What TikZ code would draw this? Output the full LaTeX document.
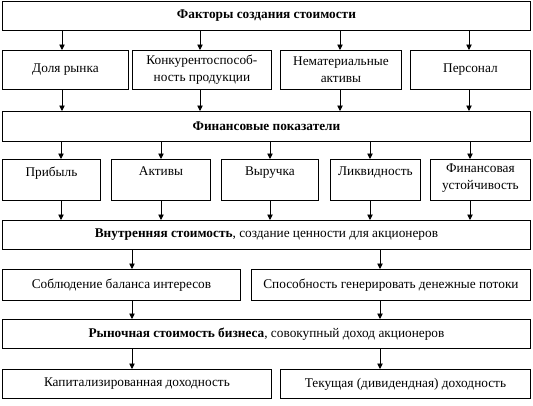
\documentclass[tikz,border=0pt]{standalone}
\usepackage{fontspec}
\setmainfont{Liberation Serif}
\usetikzlibrary{arrows.meta}
\tikzset{
  x=1pt,y=-1pt,
  box/.style={draw=black,line width=0.9pt,anchor=north west,inner sep=1pt,align=center,
    font=\fontsize{13.3}{17}\selectfont},
  arr/.style={line width=0.9pt,-{Triangle[length=5.5pt,width=5.5pt]}},
  toplbl/.style={anchor=north,align=center,inner sep=0pt,font=\fontsize{13.3}{17}\selectfont}
}
\begin{document}
\begin{tikzpicture}
\useasboundingbox[fill=white] (0,0) rectangle (533,405);
% row 1
\node[box,minimum width=528,minimum height=29] (r1) at (2,1) {\textbf{Факторы создания стоимости}};
% row 2
\node[box,minimum width=126,minimum height=39] (b21) at (2,50) {Доля рынка};
\node[box,minimum width=139,minimum height=39] (b22) at (132,50) {Конкурентоспособ-\\ность продукции};
\node[box,minimum width=121,minimum height=39] (b23) at (280,50) {Нематериальные\\активы};
\node[box,minimum width=120,minimum height=39] (b24) at (410,50) {Персонал};
% row 3
\node[box,minimum width=528,minimum height=30] (r3) at (2,111) {\textbf{Финансовые показатели}};
% row 4
\node[box,minimum width=98,minimum height=41,label={[toplbl,yshift=-8pt]north:Прибыль}] (b41) at (2,159) {};
\node[box,minimum width=99,minimum height=41,label={[toplbl,yshift=-8pt]north:Активы}] (b42) at (111,159) {};
\node[box,minimum width=97,minimum height=41,label={[toplbl,yshift=-8pt]north:Выручка}] (b43) at (221,159) {};
\node[box,minimum width=90,minimum height=41,label={[toplbl,yshift=-8pt]north:Ликвидность}] (b44) at (330,159) {};
\node[box,minimum width=100,minimum height=41,label={[toplbl,yshift=-4.5pt]north:Финансовая\\устойчивость}] (b45) at (430,159) {};
% row 5
\node[box,minimum width=528,minimum height=29] (r5) at (2,220) {\textbf{Внутренняя стоимость}, создание ценности для акционеров};
% row 6
\node[box,minimum width=238,minimum height=31] (b61) at (2,269) {Соблюдение баланса интересов};
\node[box,minimum width=279,minimum height=31] (b62) at (251,269) {Способность генерировать денежные потоки};
% row 7
\node[box,minimum width=528,minimum height=29] (r7) at (2,319) {\textbf{Рыночная стоимость бизнеса}, совокупный доход акционеров};
% row 8
\node[box,minimum width=269,minimum height=29] (b81) at (2,369) {Капитализированная доходность};
\node[box,minimum width=250,minimum height=29] (b82) at (280,369) {Текущая (дивидендная) доходность};
% arrow columns
\coordinate (c1) at (62,0);
\coordinate (c2) at (200,0);
\coordinate (c3) at (340,0);
\coordinate (c4) at (469,0);
\coordinate (d1) at (61,0);
\coordinate (d2) at (161,0);
\coordinate (d3) at (270,0);
\coordinate (d4) at (370,0);
\coordinate (d5) at (470,0);
\coordinate (e1) at (132,0);
\coordinate (e2) at (380,0);
% arrows row1 -> row2 -> row3
\draw[arr] (r1.south -| c1) -- (b21.north -| c1);
\draw[arr] (r1.south -| c2) -- (b22.north -| c2);
\draw[arr] (r1.south -| c3) -- (b23.north -| c3);
\draw[arr] (r1.south -| c4) -- (b24.north -| c4);
\draw[arr] (b21.south -| c1) -- (r3.north -| c1);
\draw[arr] (b22.south -| c2) -- (r3.north -| c2);
\draw[arr] (b23.south -| c3) -- (r3.north -| c3);
\draw[arr] (b24.south -| c4) -- (r3.north -| c4);
% row3 -> row4 -> row5
\draw[arr] (r3.south -| d1) -- (b41.north -| d1);
\draw[arr] (r3.south -| d2) -- (b42.north -| d2);
\draw[arr] (r3.south -| d3) -- (b43.north -| d3);
\draw[arr] (r3.south -| d4) -- (b44.north -| d4);
\draw[arr] (r3.south -| d5) -- (b45.north -| d5);
\draw[arr] (b41.south -| d1) -- (r5.north -| d1);
\draw[arr] (b42.south -| d2) -- (r5.north -| d2);
\draw[arr] (b43.south -| d3) -- (r5.north -| d3);
\draw[arr] (b44.south -| d4) -- (r5.north -| d4);
\draw[arr] (b45.south -| d5) -- (r5.north -| d5);
% lower rows
\draw[arr] (r5.south -| e1) -- (b61.north -| e1);
\draw[arr] (r5.south -| e2) -- (b62.north -| e2);
\draw[arr] (b61.south -| e1) -- (r7.north -| e1);
\draw[arr] (b62.south -| e2) -- (r7.north -| e2);
\draw[arr] (r7.south -| e1) -- (b81.north -| e1);
\draw[arr] (r7.south -| e2) -- (b82.north -| e2);
\end{tikzpicture}
\end{document}
